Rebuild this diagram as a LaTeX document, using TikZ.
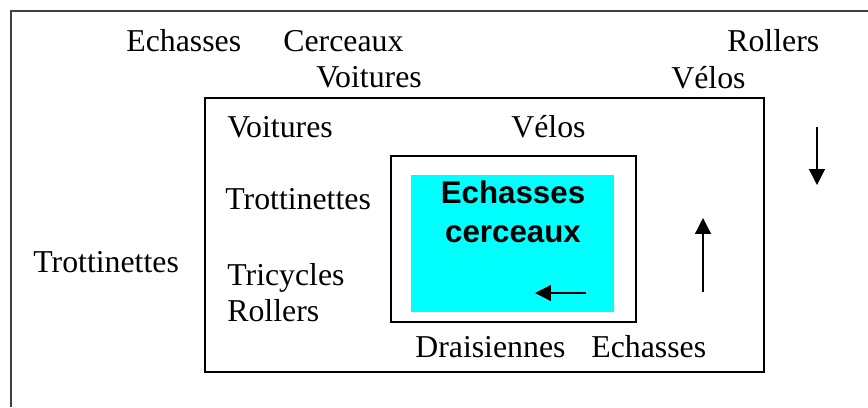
\documentclass[tikz,border=0pt]{standalone}
\usepackage{fontspec}
\setmainfont{Liberation Serif}
\newfontfamily\grasfont{Liberation Sans}
\usetikzlibrary{arrows.meta}
\definecolor{cyanvif}{RGB}{0,255,255}
\tikzset{cadre/.style={draw,line width=0.8pt},
    mot/.style={anchor=base west,inner sep=0pt,font=\fontsize{18.1}{20}\selectfont},
    motgras/.style={anchor=base,inner sep=0pt,font=\grasfont\bfseries\fontsize{17.8}{20}\selectfont},
    fleche/.style={-{Triangle[length=9pt,width=9pt]},line width=0.75pt}}

\begin{document}
\begin{tikzpicture}[x=0.02cm,y=-0.02cm]
    \useasboundingbox (0,0) rectangle (868,407);
    % cadre exterieur, coupe a droite et en bas
    \draw[line width=1.1pt,black!75] (11,407) -- (11,11) -- (868,11);
    \draw[cadre] (205,98) rectangle (764,372);
    \draw[cadre] (391,156) rectangle (636,322);
    \fill[cyanvif] (411,175) rectangle (614,312);
    % hors du cadre
    \node[mot] (echA) at (126,51) {Echasses};
    \node[mot] (cerA) at (283,51) {Cerceaux};
    \node[mot] (voiA) at (316,87) {Voitures};
    \node[mot] (rolA) at (727,51) {Rollers};
    \node[mot] (velA) at (671,88) {V\'elos};
    \node[mot] (troA) at (33,272) {Trottinettes};
    % dans le cadre
    \node[mot] (voiB) at (227,137) {Voitures};
    \node[mot] (velB) at (511,137) {V\'elos};
    \node[mot] (troB) at (225,209) {Trottinettes};
    \node[mot] (triB) at (227,285) {Tricycles};
    \node[mot] (rolB) at (227,321) {Rollers};
    \node[mot] (draB) at (415,357) {Draisiennes};
    \node[mot] (echB) at (591,357) {Echasses};
    % au centre
    \node[motgras] (echC) at (513,203) {Echasses};
    \node[motgras] (cerC) at (513,242) {cerceaux};
    % fleches
    \coordinate (gA) at (586,293);
    \coordinate (gB) at (535,293);
    \coordinate (hA) at (703,292);
    \coordinate (hB) at (703,218);
    \coordinate (bA) at (817,127);
    \coordinate (bB) at (817,185);
    \draw[fleche] (gA) -- (gB);
    \draw[fleche] (hA) -- (hB);
    \draw[fleche] (bA) -- (bB);
\end{tikzpicture}
\end{document}
